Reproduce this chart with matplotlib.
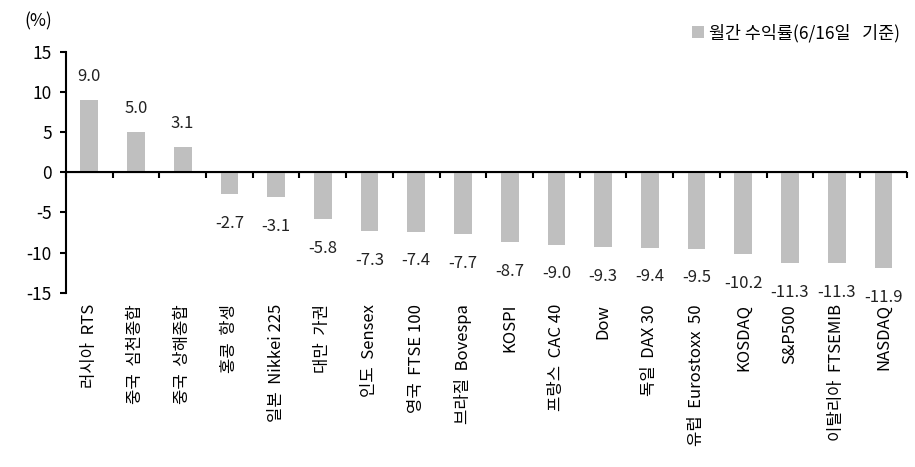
import matplotlib
matplotlib.use("Agg")
import matplotlib.pyplot as plt
import numpy as np

plt.rcParams['font.family'] = ['Noto Sans CJK KR', 'DejaVu Sans']

categories = ["러시아  RTS", "중국  심천종합", "중국  상해종합", "홍콩  항셍", "일본  Nikkei 225",
              "대만  가권", "인도  Sensex", "영국  FTSE 100", "브라질  Bovespa", "KOSPI",
              "프랑스  CAC 40", "Dow", "독일  DAX 30", "유럽  Eurostoxx  50", "KOSDAQ",
              "S&P500", "이탈리아  FTSEMIB", "NASDAQ"]
values = [9.0, 5.0, 3.1, -2.7, -3.1, -5.8, -7.3, -7.4, -7.7, -8.7, -9.0, -9.3, -9.4, -9.5,
          -10.2, -11.3, -11.3, -11.9]
series_name = "월간 수익률(6/16일   기준)"
yticks = [-15, -10, -5, 0, 5, 10, 15]

fig = plt.figure(figsize=(9.15, 4.67), dpi=100)
ax = fig.add_axes([0.072, 0.373, 0.919, 0.516])

x = np.arange(len(categories))
bars = ax.bar(x, values, width=0.38, color="#bfbfbf", label=series_name, zorder=2)

for xi, v in zip(x, values):
    off = 17 if v >= 0 else -21
    ax.annotate(f"{v:.1f}", (xi, v), xytext=(0, off), textcoords="offset points",
                ha="center", va="center", fontsize=12, color="#222222")

ax.set_xlim(-0.5, len(categories) - 0.5)
ax.set_ylim(-15, 15)
ax.set_yticks(yticks)
ax.set_yticklabels([str(t) for t in yticks], fontsize=12.5)
ax.tick_params(axis="y", direction="out", length=4, width=1.5, pad=6, color="black")

ax.set_xticks(x)
ax.set_xticklabels(categories, rotation=90, fontsize=12, va="top", ha="center")
ax.tick_params(axis="x", length=0, pad=8)

for s in ["top", "right", "bottom"]:
    ax.spines[s].set_visible(False)
ax.spines["left"].set_linewidth(1.5)

ax.axhline(0, color="black", linewidth=1.5, zorder=3)

sec = ax.secondary_xaxis(0.5)
sec.set_xticks(np.arange(len(categories) + 1) - 0.5)
sec.tick_params(axis="x", direction="out", length=4, width=1.5, labelbottom=False,
                labeltop=False, bottom=True, top=False)

fig.text(0.027, 0.955, "(%)", fontsize=12.5, ha="left", va="center")

leg = ax.legend(loc="upper right", bbox_to_anchor=(1.0, 1.145), frameon=False, fontsize=12.5,
                handlelength=0.65, handleheight=0.65, handletextpad=0.3, borderaxespad=0)

fig.savefig("out.png", dpi=100)
